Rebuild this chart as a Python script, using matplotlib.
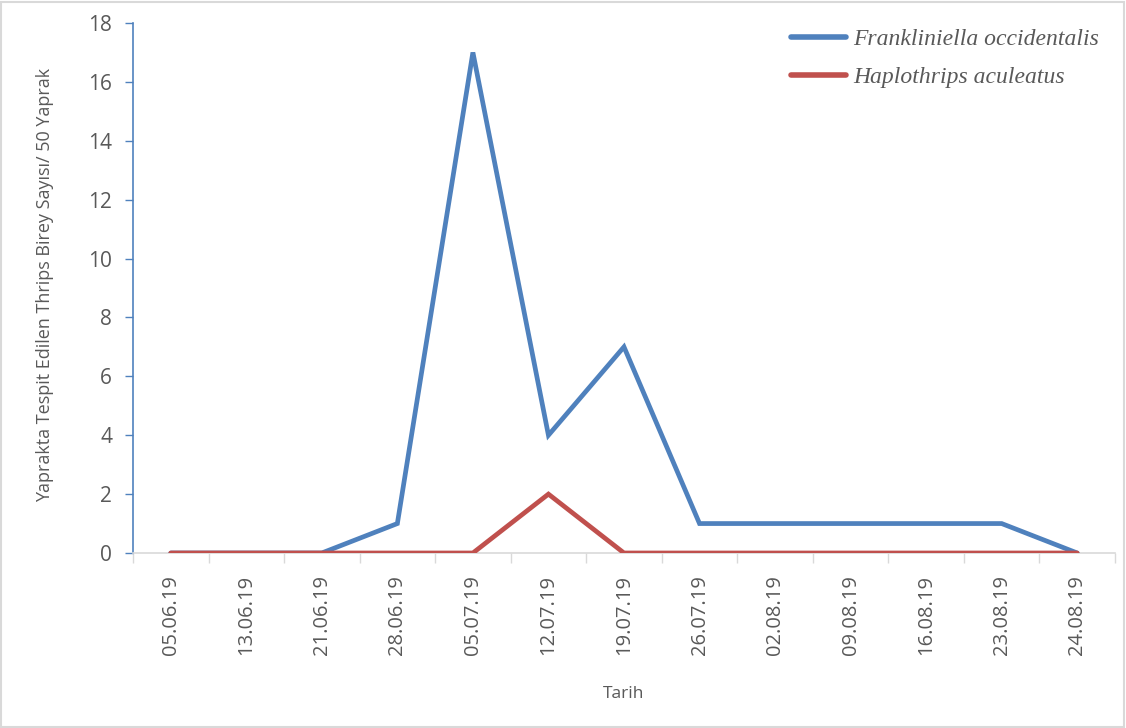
import matplotlib
matplotlib.use("Agg")
import matplotlib.pyplot as plt
from matplotlib.lines import Line2D
from matplotlib.patches import Rectangle

dates = ["05.06.19", "13.06.19", "21.06.19", "28.06.19", "05.07.19", "12.07.19",
         "19.07.19", "26.07.19", "02.08.19", "09.08.19", "16.08.19", "23.08.19", "24.08.19"]
frankliniella = [0, 0, 0, 1, 17, 4, 7, 1, 1, 1, 1, 1, 0]
haplothrips = [0, 0, 0, 0, 0, 2, 0, 0, 0, 0, 0, 0, 0]
series_names = ["Frankliniella occidentalis", "Haplothrips aculeatus"]

grey = "#595959"
blue = "#4F81BD"
red = "#C0504D"

plt.rcParams["font.family"] = ["Open Sans", "DejaVu Sans"]

fig = plt.figure(figsize=(11.26, 7.28), dpi=100)
ax = fig.add_axes([0.1181, 0.2404, 0.8721, 0.7280])

x = list(range(len(dates)))
ax.plot(x, frankliniella, color=blue, lw=3.4, solid_capstyle="round", solid_joinstyle="miter", zorder=3)
ax.plot(x, haplothrips, color=red, lw=3.4, solid_capstyle="round", solid_joinstyle="miter", zorder=4)

ax.set_xlim(-0.5, len(dates) - 0.5)
ax.set_ylim(0, 18)
ax.set_yticks(range(0, 19, 2))
ax.set_xticks(x)
ax.set_xticklabels(dates, rotation=90)
ax.set_xticks([i - 0.5 for i in range(len(dates) + 1)], minor=True)
ax.tick_params(axis="x", which="major", length=0, pad=16, labelsize=14.5, labelcolor=grey)
ax.tick_params(axis="x", which="minor", length=7, width=1, color="#D9D9D9", direction="out")
ax.tick_params(axis="y", length=6, width=1, color=blue, pad=9, labelsize=15, labelcolor=grey)

for s in ["top", "right"]:
    ax.spines[s].set_visible(False)
ax.spines["left"].set_color(blue)
ax.spines["left"].set_linewidth(1.2)
ax.spines["bottom"].set_color("#D9D9D9")
ax.spines["bottom"].set_linewidth(1.2)

ax.set_xlabel("Tarih", fontsize=12.5, color=grey, labelpad=22)
fig.text(0.040, 0.609, "Yaprakta Tespit Edilen Thrips Birey Sayısı/ 50 Yaprak",
         rotation=90, ha="center", va="center", fontsize=13, color=grey)

handles = [Line2D([0], [0], color=blue, lw=4, solid_capstyle="round"),
           Line2D([0], [0], color=red, lw=4, solid_capstyle="round")]
ax.legend(handles, series_names, loc="upper right", bbox_to_anchor=(1.005, 1.03), frameon=False,
          prop={"family": "Liberation Serif", "style": "italic", "size": 17},
          labelcolor=grey, handlelength=2.3, handletextpad=0.3, labelspacing=0.7)

fig.patches.append(Rectangle((0.001, 0.001), 0.997, 0.996, transform=fig.transFigure,
                             fill=False, edgecolor="#D9D9D9", lw=1.5))

fig.savefig("out.png", dpi=100)
